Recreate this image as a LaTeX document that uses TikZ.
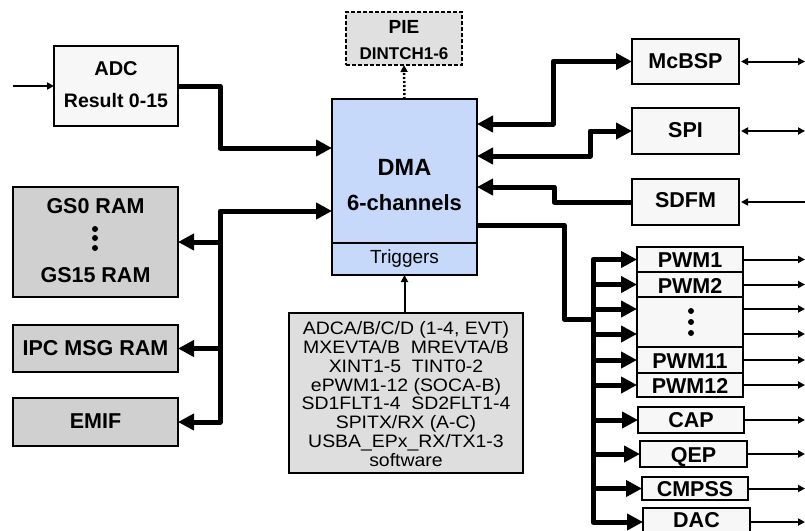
\documentclass[tikz,border=0pt]{standalone}
\usepackage{fontspec}
\setmainfont{Liberation Sans}
\newfontfamily\trigfont[FakeStretch=1.08]{Liberation Sans}
\usetikzlibrary{arrows.meta}
\definecolor{boxwhite}{HTML}{F7F7F7}
\definecolor{boxgray}{HTML}{D0D0D0}
\definecolor{trggray}{HTML}{DEDEDE}
\definecolor{piegray}{HTML}{E0E0E0}
\definecolor{dmablue}{HTML}{C6D9FA}
\tikzset{
  box/.style={draw=black, line width=1.5pt, inner sep=0pt, outer sep=0pt},
  wbox/.style={box, fill=boxwhite},
  gbox/.style={box, fill=boxgray},
  bbox/.style={box, fill=dmablue},
  bus/.style={line width=5pt, line join=round},
  fine/.style={line width=2pt},
  bigtip/.style={-{Triangle[length=16pt,width=16pt]}},
  bigtwo/.style={{Triangle[length=16pt,width=16pt]}-{Triangle[length=16pt,width=16pt]}},
  bigback/.style={{Triangle[length=16pt,width=16pt]}-},
  smalltip/.style={-{Triangle[length=7pt,width=7pt]}},
  smalltwo/.style={{Triangle[length=7pt,width=7pt]}-{Triangle[length=7pt,width=7pt]}},
  lbl/.style={anchor=base, inner sep=0pt, font=\bfseries\fontsize{21.5}{22}\selectfont},
}
\begin{document}
\begin{tikzpicture}[x=1pt,y=-1pt]
\useasboundingbox (0,0) rectangle (805,530);
\clip (0,0) rectangle (805,530);
% ---------- boxes ----------
\node[wbox, minimum width=124, minimum height=80] (adc) at (116,86) {};
\node[bbox, minimum width=145, minimum height=144] (dma) at (404.5,171) {};
\node[bbox, minimum width=145, minimum height=32] (trig) at (404.5,259) {};
\node[box, fill=piegray, dash pattern=on 4pt off 2pt, minimum width=116, minimum height=53] (pie) at (404,38.5) {};
\node[box, fill=trggray, minimum width=234, minimum height=160] (src) at (406,393) {};
\node[gbox, minimum width=165, minimum height=110] (gs) at (95.5,242) {};
\node[gbox, minimum width=165, minimum height=47] (ipc) at (95.5,348.5) {};
\node[gbox, minimum width=165, minimum height=48] (emif) at (95.5,422) {};
\node[wbox, minimum width=107, minimum height=45] (mcbsp) at (685.5,61.5) {};
\node[wbox, minimum width=107, minimum height=46] (spi) at (685.5,131) {};
\node[wbox, minimum width=107, minimum height=46] (sdfm) at (685.5,202) {};
\node[wbox, minimum width=106, minimum height=25] (pwm1) at (690,259.5) {};
\node[wbox, minimum width=106, minimum height=25] (pwm2) at (690,284.5) {};
\node[wbox, minimum width=106, minimum height=50] (pwmd) at (690,322) {};
\node[wbox, minimum width=106, minimum height=26] (pwm11) at (690,360) {};
\node[wbox, minimum width=106, minimum height=24] (pwm12) at (690,385) {};
\node[wbox, minimum width=106, minimum height=26] (cap) at (691,420) {};
\node[wbox, minimum width=107, minimum height=26] (qep) at (693.5,454) {};
\node[wbox, minimum width=106, minimum height=23] (cmpss) at (695,488.5) {};
\node[wbox, minimum width=107, minimum height=28] (dac) at (696.5,522) {};
% ---------- texts ----------
\node[lbl, font=\bfseries\fontsize{20}{20}\selectfont] (adcT1) at (116,75) {ADC};
\node[lbl, font=\bfseries\fontsize{19.5}{20}\selectfont] (adcT2) at (116,107) {Result 0-15};
\node[lbl, font=\bfseries\fontsize{23.5}{24}\selectfont] (dmaT1) at (404.5,175) {DMA};
\node[lbl, font=\bfseries\fontsize{22}{22}\selectfont] (dmaT2) at (404.5,210) {6-channels};
\node[lbl, font=\fontsize{19}{19}\selectfont] (trigT) at (404.5,263) {Triggers};
\node[lbl, font=\bfseries\fontsize{19}{19}\selectfont] (pieT1) at (404,33) {PIE};
\node[lbl, font=\bfseries\fontsize{17}{17}\selectfont] (pieT2) at (404,59) {DINTCH1-6};
\node[lbl] (gsT1) at (95.5,213) {GS0 RAM};
\node[lbl] (gsT2) at (95.5,282) {GS15 RAM};
\node[lbl] (ipcT) at (95.5,355) {IPC MSG RAM};
\node[lbl] (emifT) at (95.5,428) {EMIF};
\node[lbl] (mcbspT) at (685.5,68) {McBSP};
\node[lbl] (spiT) at (685.5,137) {SPI};
\node[lbl] (sdfmT) at (685.5,207) {SDFM};
\node[lbl] (pwm1T) at (690,267) {PWM1};
\node[lbl] (pwm2T) at (690,293) {PWM2};
\node[lbl] (pwm11T) at (690,368) {PWM11};
\node[lbl] (pwm12T) at (690,393) {PWM12};
\node[lbl] (capT) at (691,427) {CAP};
\node[lbl] (qepT) at (693.5,462) {QEP};
\node[lbl] (cmpssT) at (695,496) {CMPSS};
\node[lbl] (dacT) at (696.5,527) {DAC};
\node[inner sep=0pt, align=center, font=\trigfont\fontsize{18}{18.8}\selectfont] (srcT) at (406,394)
  {ADCA/B/C/D (1-4, EVT)\\MXEVTA/B\ \ MREVTA/B\\XINT1-5\ \ TINT0-2\\ePWM1-12 (SOCA-B)\\SD1FLT1-4\ \ SD2FLT1-4\\SPITX/RX (A-C)\\USBA\_EPx\_RX/TX1-3\\software};
% ---------- dots ----------
\foreach \yy in {229,238,248} \fill (95,\yy) circle (3);
\foreach \yy in {311,322,333} \fill (691,\yy) circle (3);
% ---------- coordinates ----------
\coordinate (adcin) at (13,86);
\coordinate (dmaL1) at (332,148);
\coordinate (dmaL2) at (332,211);
\coordinate (lb) at (220,0);
\coordinate (dR1) at (477,124);
\coordinate (dR2) at (477,156);
\coordinate (dR3) at (477,187);
\coordinate (dR4) at (477,225);
\coordinate (rb) at (593,0);
\coordinate (rbj) at (593,319);
\coordinate (ex) at (805,0);
\coordinate (pd1) at (637,309);
\coordinate (pd2) at (637,334);
\coordinate (pe1) at (743,309);
\coordinate (pe2) at (743,334);
% ---------- connectors ----------
\draw[fine, smalltip] (adcin) -- (adc.west);
\draw[bus, bigtip] (adc.east) -- ++(42,0) |- (dmaL1);
\draw[bus, bigtwo] (emif.east) -- (lb |- emif) -- (lb |- dmaL2) -- (dmaL2);
\draw[bus, bigtip] (lb |- gs) -- (gs.east);
\draw[bus, bigtip] (lb |- ipc) -- (ipc.east);
\draw[line width=2.5pt, dash pattern=on 2pt off 2pt, smalltip] (dma.north) -- (pie.south);
\draw[fine, smalltip] (trig.south |- src.north) -- (trig.south);
\draw[bus, bigtwo] (dR1) -- ++(76,0) |- (mcbsp.west);
\draw[bus, bigtwo] (dR2) -- ++(113,0) |- (spi.west);
\draw[bus, bigback] (dR3) -- ++(77,0) |- (sdfm.west);
\draw[bus] (dR4) -- ++(87,0) |- (rbj);
\draw[bus, bigtwo] (pwm1.west) -- (rb |- pwm1) -- (rb |- dac) -- (dac.west);
\draw[bus, bigtip] (rb |- pwm2) -- (pwm2.west);
\draw[bus, bigtip] (rb |- pd1) -- (pd1);
\draw[bus, bigtip] (rb |- pd2) -- (pd2);
\draw[bus, bigtip] (rb |- pwm11) -- (pwm11.west);
\draw[bus, bigtip] (rb |- pwm12) -- (pwm12.west);
\draw[bus, bigtip] (rb |- cap) -- (cap.west);
\draw[bus, bigtip] (rb |- qep) -- (qep.west);
\draw[bus, bigtip] (rb |- cmpss) -- (cmpss.west);
\draw[fine, smalltwo] ([xshift=2pt]mcbsp.east) -- (mcbsp.east -| ex);
\draw[fine, smalltwo] ([xshift=2pt]spi.east) -- (spi.east -| ex);
\draw[fine, smalltip] (sdfm.east -| ex) -- ([xshift=2pt]sdfm.east);
\foreach \n in {pwm1,pwm2,pwm11,pwm12,cap,qep,cmpss,dac}
  \draw[fine, smalltip] (\n.east) -- (\n.east -| ex);
\draw[fine, smalltip] (pe1) -- (pe1 -| ex);
\draw[fine, smalltip] (pe2) -- (pe2 -| ex);
\end{tikzpicture}
\end{document}
